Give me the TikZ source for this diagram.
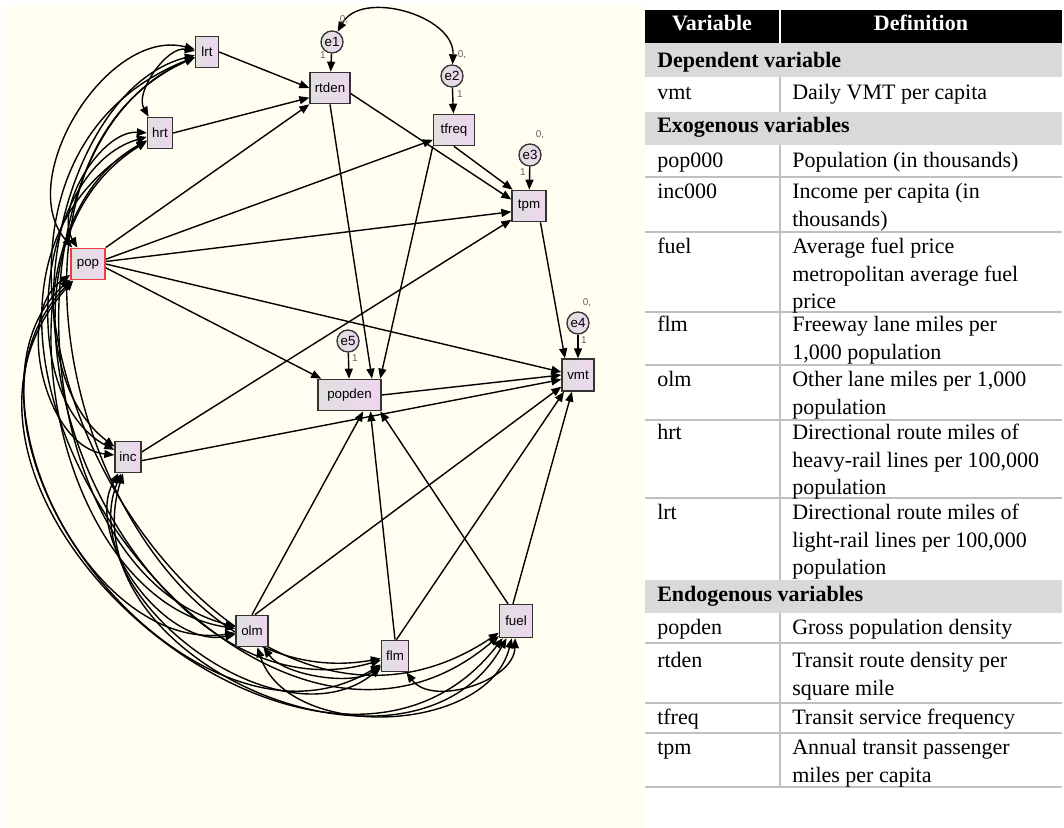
\documentclass[tikz,border=0pt]{standalone}
\usepackage{fontspec}
\setmainfont{Liberation Serif}
\newfontfamily\diafont{Liberation Sans}
\usetikzlibrary{arrows.meta}
\definecolor{cream}{RGB}{255,254,240}
\definecolor{boxL}{RGB}{224,224,224}
\definecolor{boxR}{RGB}{238,214,238}
\definecolor{bandgray}{RGB}{217,217,217}
\definecolor{rulegray}{RGB}{192,192,192}
\definecolor{popred}{RGB}{232,64,64}
\definecolor{lblgray}{RGB}{100,100,100}
\pgfdeclarelayer{back}
\pgfdeclarelayer{edges}
\pgfsetlayers{back,edges,main}
\begin{document}
\begin{tikzpicture}[x=0.75pt,y=0.75pt,
  var/.style={rectangle, draw=black!80, line width=1pt, left color=boxL, right color=boxR,
    font=\diafont\fontsize{10}{12}\selectfont, inner sep=0pt, minimum height=23.5pt},
  err/.style={circle, draw=black!80, line width=1pt, left color=boxL, right color=boxR,
    font=\diafont\fontsize{10}{12}\selectfont, inner sep=0pt, minimum size=16.5pt},
  lbl/.style={font=\diafont\fontsize{7.5}{9}\selectfont, text=lblgray, inner sep=0pt},
  reg/.style={line width=1.05pt, -{Triangle[length=7.5pt,width=6pt]}},
  cov/.style={line width=1.05pt, {Triangle[length=7.5pt,width=6pt]}-{Triangle[length=7.5pt,width=6pt]}},
  rule/.style={draw=rulegray, line width=1.5pt},
  cell/.style={anchor=north west, inner sep=0pt, align=left, font=\fontsize{16.5}{20.8}\selectfont},
  bandtext/.style={anchor=north west, inner sep=0pt, align=left, font=\fontsize{16.5}{20.8}\selectfont\bfseries},
  hdr/.style={anchor=base, inner sep=0pt, text=white, font=\fontsize{16.5}{20.8}\selectfont\bfseries}
]
\useasboundingbox (0,0) rectangle (1064,-828);
\begin{pgfonlayer}{back}
\fill[cream] (6,-6) rectangle (645,-828);
\end{pgfonlayer}

% ---------------- nodes ----------------
\node[var, minimum width=17.25pt] (lrt) at (207,-52) {lrt};
\node[var, minimum width=18.75pt] (hrt) at (160,-133) {hrt};
\node[var, minimum width=25.5pt, draw=popred, line width=1.2pt] (pop) at (88,-264) {pop};
\node[var, minimum width=19.5pt] (inc) at (128,-457) {inc};
\node[var, minimum width=24pt] (olm) at (252,-631) {olm};
\node[var, minimum width=20.25pt] (flm) at (395,-656) {flm};
\node[var, minimum width=24.75pt, minimum height=24.75pt] (fuel) at (516,-621) {fuel};
\node[var, minimum width=30pt] (rtden) at (330,-88) {rtden};
\node[var, minimum width=30.75pt] (tfreq) at (454,-130) {tfreq};
\node[var, minimum width=25.5pt] (tpm) at (529,-206) {tpm};
\node[var, minimum width=24pt, minimum height=24pt] (vmt) at (578,-375) {vmt};
\node[var, minimum width=47.25pt] (popden) at (349.5,-395) {popden};
\node[err] (e1) at (332,-42) {e1};
\node[err] (e2) at (452,-76) {e2};
\node[err] (e3) at (530,-155) {e3};
\node[err] (e4) at (578,-323) {e4};
\node[err] (e5) at (348,-341) {e5};

\node[lbl] (e1v) at (344,-20) {0,};
\node[lbl] (e1w) at (323,-55) {1};
\node[lbl] (e2v) at (462,-55) {0,};
\node[lbl] (e2w) at (460,-94) {1};
\node[lbl] (e3v) at (540,-135) {0,};
\node[lbl] (e3w) at (523,-172) {1};
\node[lbl] (e4v) at (587,-303) {0,};
\node[lbl] (e4w) at (584,-340) {1};
\node[lbl] (e5w) at (355,-358) {1};

% ---------------- edges ----------------
\begin{pgfonlayer}{edges}
% regression paths
\draw[reg] (lrt.east) -- (rtden.west);
\draw[reg] (hrt.east) -- (rtden.205);
\draw[reg] (pop.north east) -- (rtden.south west);
\draw[reg] (pop.15) -- (tfreq.205);
\draw[reg] (pop.8) -- (tpm.198);
\draw[reg] (pop.0) -- (vmt.170);
\draw[reg] (pop.-12) -- (popden.150);
\draw[reg] (inc.20) -- (tpm.218);
\draw[reg] (inc.-15) -- (vmt.195);
\draw[reg] (rtden.-15) -- (tpm.160);
\draw[reg] (rtden.south) -- (popden.36);
\draw[reg] (tfreq.south) -- (tpm.135);
\draw[reg] (tfreq.south west) -- (popden.28);
\draw[reg] (tpm.305) -- (vmt.128);
\draw[reg] (popden.east) -- (vmt.west);
\draw[reg] (olm.north) -- (popden.310);
\draw[reg] (olm.80) -- (vmt.215);
\draw[reg] (flm.north) -- (popden.322);
\draw[reg] (flm.85) -- (vmt.230);
\draw[reg] (fuel.115) -- (popden.332);
\draw[reg] (fuel.100) -- (vmt.250);
\draw[reg] (e1) -- (rtden);
\draw[reg] (e2) -- (tfreq);
\draw[reg] (e3) -- (tpm);
\draw[reg] (e4) -- (vmt);
\draw[reg] (e5) -- (popden);
% covariances
\draw[cov] (e1) to[bend left=77, looseness=1.05] (e2);
\draw[cov] (lrt) to[bend right=65, looseness=0.90] (hrt);
\draw[cov] (lrt) to[bend right=73, looseness=0.99] (pop);
\draw[cov] (lrt) to[bend right=64, looseness=0.89] (inc);
\draw[cov] (lrt) to[bend right=71, looseness=0.97] (olm);
\draw[cov] (lrt) to[bend right=83, looseness=1.13] (flm);
\draw[cov] (lrt) to[bend right=96, looseness=1.43] (fuel);
\draw[cov] (hrt) to[bend right=62, looseness=0.87] (pop);
\draw[cov] (hrt) to[bend right=68, looseness=0.93] (inc);
\draw[cov] (hrt) to[bend right=71, looseness=0.97] (olm);
\draw[cov] (hrt) to[bend right=82, looseness=1.13] (flm);
\draw[cov] (hrt) to[bend right=95, looseness=1.40] (fuel);
\draw[cov] (pop) to[bend right=70, looseness=0.95] (inc);
\draw[cov] (pop) to[bend right=73, looseness=1.00] (olm);
\draw[cov] (pop) to[bend right=83, looseness=1.14] (flm);
\draw[cov] (pop) to[bend right=92, looseness=1.33] (fuel);
\draw[cov] (inc) to[bend right=66, looseness=0.92] (olm);
\draw[cov] (inc) to[bend right=76, looseness=1.03] (flm);
\draw[cov] (inc) to[bend right=84, looseness=1.20] (fuel);
\draw[cov] (olm) to[bend right=45, looseness=0.75] (flm);
\draw[cov] (olm) to[bend right=74, looseness=1.00] (fuel);
\draw[cov] (flm) to[bend right=71, looseness=0.97] (fuel);
\end{pgfonlayer}

% ---------------- table ----------------
\fill[black] (645,-10) rectangle (1062,-43);
\draw[white, line width=1.5pt] (780,-10) -- (780,-43);
\fill[bandgray] (645,-43) rectangle (1062,-77);
\fill[bandgray] (645,-112) rectangle (1062,-145);
\fill[bandgray] (645,-580) rectangle (1062,-613);
\foreach \yy in {177,232,312,365,420,498,643,703,733,787}
  \draw[rule] (645,-\yy) -- (1062,-\yy);
\draw[rule] (780,-77) -- (780,-112);
\draw[rule] (780,-145) -- (780,-580);
\draw[rule] (780,-613) -- (780,-787);

\node[hdr] (hvar) at (712,-31) {Variable};
\node[hdr] (hdef) at (921,-31) {Definition};

\node[bandtext] (bdep) at (657,-47.6) {\strut Dependent variable};
\node[cell] (vvmt) at (657,-79.6) {\strut vmt};
\node[cell] (dvmt) at (792,-79.6) {\strut Daily VMT per capita};
\node[bandtext] (bexo) at (657,-112.6) {\strut Exogenous variables};
\node[cell] (vpop) at (657,-147.6) {\strut pop000};
\node[cell] (dpop) at (792,-147.6) {\strut Population (in thousands)};
\node[cell] (vinc) at (657,-178.6) {\strut inc000};
\node[cell] (dinc) at (792,-178.6) {\strut Income per capita (in\\thousands)};
\node[cell] (vfuel) at (657,-233.6) {\strut fuel};
\node[cell] (dfuel) at (792,-233.6) {\strut Average fuel price\\metropolitan average fuel\\price};
\node[cell] (vflm) at (657,-311.6) {\strut flm};
\node[cell] (dflm) at (792,-311.6) {\strut Freeway lane miles per\\1,000 population};
\node[cell] (volm) at (657,-366.6) {\strut olm};
\node[cell] (dolm) at (792,-366.6) {\strut Other lane miles per 1,000\\population};
\node[cell] (vhrt) at (657,-419.6) {\strut hrt};
\node[cell] (dhrt) at (792,-419.6) {\strut Directional route miles of\\heavy-rail lines per 100,000\\population};
\node[cell] (vlrt) at (657,-499.6) {\strut lrt};
\node[cell] (dlrt) at (792,-499.6) {\strut Directional route miles of\\light-rail lines per 100,000\\population};
\node[bandtext] (bendo) at (657,-581.6) {\strut Endogenous variables};
\node[cell] (vpopden) at (657,-614.6) {\strut popden};
\node[cell] (dpopden) at (792,-614.6) {\strut Gross population density};
\node[cell] (vrtden) at (657,-647.6) {\strut rtden};
\node[cell] (drtden) at (792,-647.6) {\strut Transit route density per\\square mile};
\node[cell] (vtfreq) at (657,-704.6) {\strut tfreq};
\node[cell] (dtfreq) at (792,-704.6) {\strut Transit service frequency};
\node[cell] (vtpm) at (657,-734.6) {\strut tpm};
\node[cell] (dtpm) at (792,-734.6) {\strut Annual transit passenger\\miles per capita};
\end{tikzpicture}
\end{document}
